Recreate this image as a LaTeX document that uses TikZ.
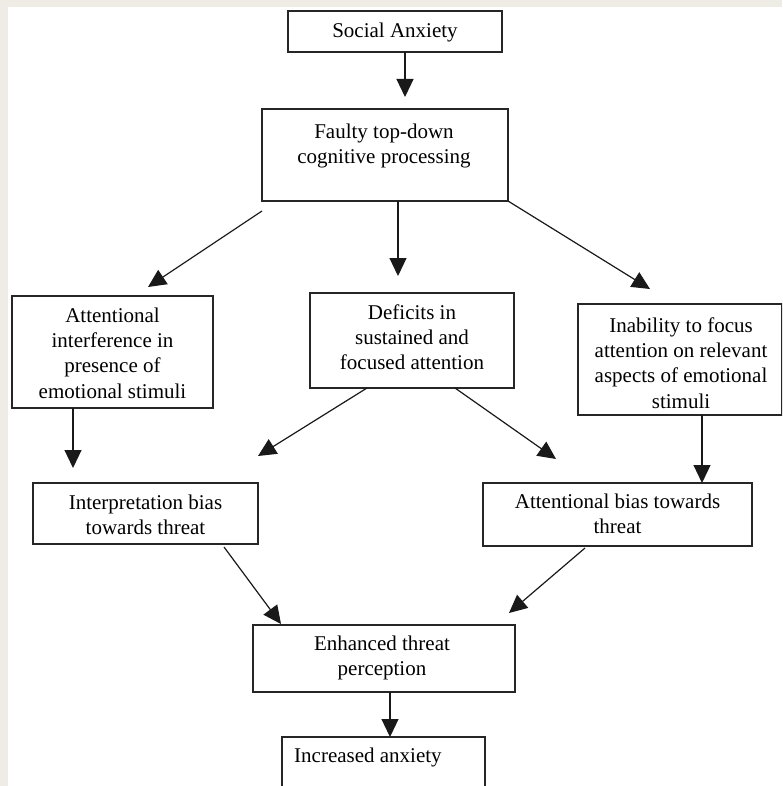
\documentclass[tikz,border=0pt]{standalone}
\usepackage{fontspec}
\setmainfont{Liberation Serif}
\usetikzlibrary{arrows.meta}
\definecolor{bgray}{HTML}{EFECE6}
\begin{document}
\begin{tikzpicture}[x=1pt,y=-1pt,
  box/.style={draw=black!85, line width=1.2pt, inner sep=0pt, fill=white},
  txt/.style={align=center, inner sep=0pt, anchor=north, font=\fontsize{21}{25.3}\selectfont},
  arr/.style={line width=1.2pt, draw=black!90, -{Triangle[length=18pt,width=17pt]}}]
\useasboundingbox (0,0) rectangle (782,786);
\clip (0,0) rectangle (782,786);
\fill[bgray] (0,0) rectangle (782,786);
\fill[white] (7.5,7) rectangle (782,786);
% boxes
\node[box, minimum width=214pt, minimum height=41pt] (soc) at (395,31.5) {};
\node[box, minimum width=246pt, minimum height=92pt] (fau) at (385,155) {};
\node[box, minimum width=201pt, minimum height=112pt] (att) at (112.5,352) {};
\node[box, minimum width=204pt, minimum height=95pt] (def) at (412,340.5) {};
\node[box, minimum width=204pt, minimum height=111pt] (ina) at (680,359.5) {};
\node[box, minimum width=225pt, minimum height=61pt] (int) at (145.5,513.5) {};
\node[box, minimum width=269pt, minimum height=63pt] (atb) at (617.5,514.5) {};
\node[box, minimum width=262pt, minimum height=67pt] (enh) at (384,658.5) {};
\node[box, minimum width=203pt, minimum height=66pt] (inc) at (383.5,770) {};
% texts
\node[txt] (socT) at (395,19.3) {\strut Social Anxiety};
\node[txt] (fauT) at (384,120.3) {\strut Faulty top-down\\cognitive processing};
\node[txt] (attT) at (112.5,304.3) {\strut Attentional\\interference in\\presence of\\emotional stimuli};
\node[txt] (defT) at (412,301.3) {\strut Deficits in\\sustained and\\focused attention};
\node[txt] (inaT) at (681,314.3) {\strut Inability to focus\\attention on relevant\\aspects of emotional\\stimuli};
\node[txt] (intT) at (145.5,491.3) {\strut Interpretation bias\\towards threat};
\node[txt] (atbT) at (617.5,490.3) {\strut Attentional bias towards\\threat};
\node[txt] (enhT) at (382,632.3) {\strut Enhanced threat\\perception};
\node[inner sep=0pt, anchor=base west, font=\fontsize{21}{25.3}\selectfont] (incT) at (294,762) {Increased anxiety};
% connector end points
\coordinate (a1s) at (405,52);   \coordinate (a1e) at (405,97);
\coordinate (a2s) at (262,211);  \coordinate (a2e) at (148,287);
\coordinate (a3s) at (398,201);  \coordinate (a3e) at (398,276);
\coordinate (a4s) at (508,201);  \coordinate (a4e) at (650,289);
\coordinate (a5s) at (73,408);   \coordinate (a5e) at (73,468);
\coordinate (a6s) at (367,388);  \coordinate (a6e) at (258,456);
\coordinate (a7s) at (455,388);  \coordinate (a7e) at (556,459);
\coordinate (a8s) at (702,415);  \coordinate (a8e) at (702,483);
\coordinate (a9s) at (224,547);  \coordinate (a9e) at (281,624);
\coordinate (a10s) at (585,548); \coordinate (a10e) at (509,613);
\coordinate (a11s) at (390,692); \coordinate (a11e) at (390,737);
% connectors
\draw[arr] (a1s) -- (a1e);
\draw[arr] (a2s) -- (a2e);
\draw[arr] (a3s) -- (a3e);
\draw[arr] (a4s) -- (a4e);
\draw[arr] (a5s) -- (a5e);
\draw[arr] (a6s) -- (a6e);
\draw[arr] (a7s) -- (a7e);
\draw[arr] (a8s) -- (a8e);
\draw[arr] (a9s) -- (a9e);
\draw[arr] (a10s) -- (a10e);
\draw[arr] (a11s) -- (a11e);
\end{tikzpicture}
\end{document}
